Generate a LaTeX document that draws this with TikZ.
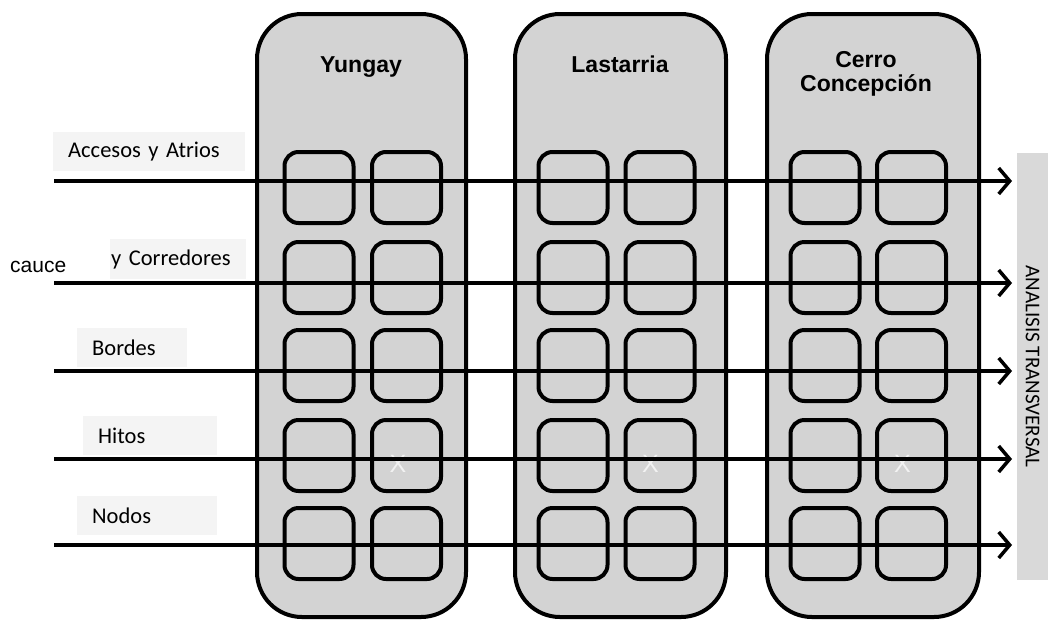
\documentclass[tikz,border=0pt]{standalone}
\usepackage{fontspec}
\setmainfont{Carlito}
\newfontfamily\arialfont{Liberation Sans}
\usetikzlibrary{arrows.meta}

\definecolor{colgrey}{HTML}{D3D3D3}
\definecolor{labelgrey}{HTML}{F4F4F4}
\definecolor{sidegrey}{HTML}{D9D9D9}
\definecolor{xgrey}{HTML}{F2F2F2}

\tikzset{
  barrio/.style={draw, line width=4pt, fill=colgrey, rounded corners=45pt, minimum height=603pt, inner sep=0pt},
  celda/.style={draw, line width=4pt, fill=colgrey, rounded corners=14pt, minimum width=69pt, minimum height=71pt, inner sep=0pt},
  titulo/.style={font=\arialfont\bfseries\fontsize{23}{24}\selectfont, align=center},
  etiqueta/.style={fill=labelgrey, anchor=north west, minimum height=39pt, inner xsep=15pt, align=left, font=\fontsize{22.5}{27}\selectfont},
  flecha/.style={line width=3.5pt, -{Straight Barb[length=11pt, width=26pt, line width=3.5pt]}},
  marca/.style={text=xgrey, font=\arialfont\fontsize{25}{28}\selectfont, inner sep=0pt}
}

\begin{document}
\begin{tikzpicture}[x=1pt, y=-1pt]
\useasboundingbox (0,0) rectangle (1048,619);
% etiquetas de la izquierda
\node[etiqueta, text width=162pt] (accesos) at (53,132) {Accesos y Atrios};
\node[etiqueta, text width=134pt, inner xsep=1pt, minimum height=40pt] (corredores) at (110,239) {y Corredores};
\node[fill=white, anchor=north west, minimum width=110pt, minimum height=36pt, inner xsep=10pt, text width=90pt, align=left, font=\arialfont\fontsize{21}{24}\selectfont] (cauce) at (0,249) {cauce};
\node[etiqueta, text width=80pt] (bordes) at (77,328) {Bordes};
\node[etiqueta, text width=104pt] (hitos) at (83,416) {Hitos};
\node[etiqueta, text width=110pt] (nodos) at (77,496) {Nodos};
% barrios
\node[barrio, minimum width=209pt] (yungay) at (361.5,315.5) {};
\node[barrio, minimum width=211pt] (lastarria) at (620.5,315.5) {};
\node[barrio, minimum width=212pt] (cerro) at (873,315.5) {};
\node[titulo, anchor=base] (tyungay) at (361,72) {Yungay};
\node[titulo, anchor=base] (tlastarria) at (620,72) {Lastarria};
\node[titulo, anchor=base] (tcerro) at (866,91) {Cerro\\Concepción};
% celdas
\foreach \cx [count=\i] in {319,406.5,573,660,825,911.5}
  \foreach \cy [count=\j] in {187.5,277.5,365.5,455.5,543.5}
    \node[celda] (c\i\j) at (\cx,\cy) {};
\node[marca] (x1) at ([shift={(-8.5,8.5)}]c24.center) {X};
\node[marca] (x2) at ([shift={(-9.5,8.5)}]c44.center) {X};
\node[marca] (x3) at ([shift={(-9,8.5)}]c64.center) {X};
% analisis transversal
\node[fill=sidegrey, rotate=-90, minimum width=427pt, minimum height=31pt, inner sep=0pt, font=\fontsize{21}{24}\selectfont] (analisis) at (1032.5,366.5) {ANALISIS TRANSVERSAL};
% flechas
\foreach \y [count=\k] in {181,283,371,459,545} {
  \coordinate (ini\k) at (54,\y);
  \coordinate (fin\k) at (1012,\y);
  \draw[flecha] (ini\k) -- (fin\k);
}
\end{tikzpicture}
\end{document}
